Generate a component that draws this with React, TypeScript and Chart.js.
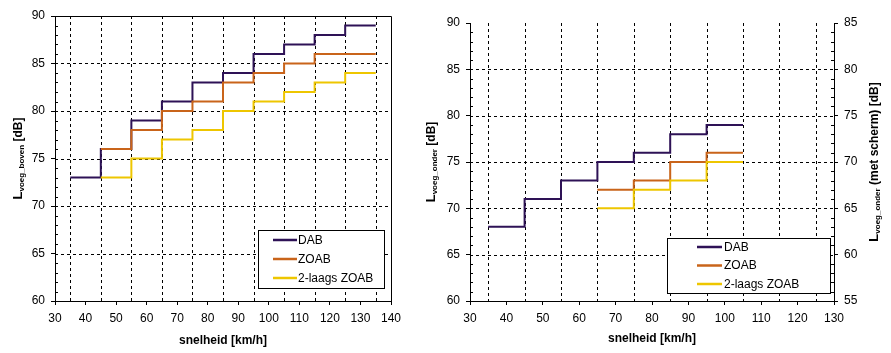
import React, { useEffect, useRef } from 'react';
import { Chart, registerables } from 'chart.js';
Chart.register(...registerables);

const FONT = "'Liberation Sans', Arial, sans-serif";
const COL_DAB = '#2E1256';
const COL_ZOAB = '#C9641A';
const COL_2ZOAB = '#EEC600';
const seriesLabels = ['DAB', 'ZOAB', '2-laags ZOAB'];

// Left chart: L_voeg_boven (step edges in km/h, value of each step; last value closes the final step)
const bovenSpeedDAB = [35, 45, 55, 65, 75, 85, 95, 105, 115, 125, 135];
const bovenDAB = [73, 76, 79, 81, 83, 84, 86, 87, 88, 89, 89];
const bovenSpeedZOAB = [45, 55, 65, 75, 85, 95, 105, 115, 125, 135];
const bovenZOAB = [76, 78, 80, 81, 83, 84, 85, 86, 86, 86];
const boven2ZOAB = [73, 75, 77, 78, 80, 81, 82, 83, 84, 84];

// Right chart: L_voeg_onder
const onderSpeedDAB = [35, 45, 55, 65, 75, 85, 95, 105];
const onderDAB = [68, 71, 73, 75, 76, 78, 79, 79];
const onderSpeedZOAB = [65, 75, 85, 95, 105];
const onderZOAB = [72, 73, 75, 76, 76];
const onder2ZOAB = [70, 72, 73, 75, 75];

// grid positions
const leftGridX = [35, 45, 55, 65, 75, 85, 95, 105, 115, 125, 135];
const rightGridX = [35, 45, 55, 65, 75, 85, 95, 105, 115, 125];
const gridY = [65, 70, 75, 80, 85];

type Part = { text: string; size: number; sub?: boolean };

function drawRich(ctx: CanvasRenderingContext2D, parts: Part[], baselineX: number, cy: number) {
  ctx.save();
  ctx.fillStyle = '#000';
  ctx.textBaseline = 'alphabetic';
  ctx.textAlign = 'left';
  let total = 0;
  const widths = parts.map((p) => {
    ctx.font = `bold ${p.size}px ${FONT}`;
    const w = ctx.measureText(p.text).width;
    total += w;
    return w;
  });
  ctx.translate(baselineX, cy);
  ctx.rotate(-Math.PI / 2);
  let x = -total / 2;
  parts.forEach((p, i) => {
    ctx.font = `bold ${p.size}px ${FONT}`;
    ctx.fillText(p.text, x, p.sub ? 2 : 0);
    x += widths[i];
  });
  ctx.restore();
}

type Cfg = {
  gridX: number[];
  frame: boolean;
  minorAxes: { id: string; side: 'left' | 'right'; min: number; max: number }[];
  legend: { rInset: number; bInset: number; w: number; h: number; l0: number; l1: number; tx: number; rows: number[] };
  titles: { parts: Part[]; x: number }[];
  xTitleY: number;
};

function makePlugin(cfg: Cfg) {
  return {
    id: 'custom',
    beforeDatasetsDraw(chart: any) {
      const { ctx, chartArea } = chart;
      const xs = chart.scales.x;
      const ys = chart.scales.y;
      ctx.save();
      ctx.strokeStyle = '#000';
      ctx.lineWidth = 1;
      ctx.setLineDash([3, 3]);
      cfg.gridX.forEach((v) => {
        const px = Math.round(xs.getPixelForValue(v)) + 0.5;
        ctx.beginPath();
        ctx.moveTo(px, chartArea.top);
        ctx.lineTo(px, chartArea.bottom);
        ctx.stroke();
      });
      gridY.forEach((v) => {
        const py = Math.round(ys.getPixelForValue(v)) + 0.5;
        ctx.beginPath();
        ctx.moveTo(chartArea.left, py);
        ctx.lineTo(chartArea.right, py);
        ctx.stroke();
      });
      ctx.setLineDash([]);
      if (cfg.frame) {
        const t = Math.round(chartArea.top) + 0.5;
        const r = Math.round(chartArea.right) + 0.5;
        ctx.beginPath();
        ctx.moveTo(chartArea.left, t);
        ctx.lineTo(r, t);
        ctx.lineTo(r, chartArea.bottom);
        ctx.stroke();
      }
      cfg.minorAxes.forEach((a) => {
        const sc = chart.scales[a.id];
        for (let v = a.min + 1; v < a.max; v++) {
          if (v % 5 === 0) continue;
          const py = Math.round(sc.getPixelForValue(v)) + 0.5;
          ctx.beginPath();
          if (a.side === 'left') {
            ctx.moveTo(chartArea.left, py);
            ctx.lineTo(chartArea.left + 3, py);
          } else {
            ctx.moveTo(chartArea.right, py);
            ctx.lineTo(chartArea.right - 3, py);
          }
          ctx.stroke();
        }
      });
      ctx.restore();
    },
    afterDatasetsDraw(chart: any) {
      const { ctx, chartArea } = chart;
      const L = cfg.legend;
      const right = Math.round(chartArea.right - L.rInset);
      const bottom = Math.round(chartArea.bottom - L.bInset);
      const left = right - L.w;
      const top = bottom - L.h;
      ctx.save();
      ctx.fillStyle = '#fff';
      ctx.fillRect(left, top, L.w, L.h);
      ctx.strokeStyle = '#000';
      ctx.lineWidth = 1;
      ctx.strokeRect(left + 0.5, top + 0.5, L.w, L.h);
      const ds = chart.data.datasets;
      ds.forEach((d: any, i: number) => {
        const y = top + L.rows[i];
        ctx.strokeStyle = d.borderColor;
        ctx.lineWidth = 2.5;
        ctx.beginPath();
        ctx.moveTo(left + L.l0, y);
        ctx.lineTo(left + L.l1, y);
        ctx.stroke();
        ctx.fillStyle = '#000';
        ctx.font = `12px ${FONT}`;
        ctx.textBaseline = 'middle';
        ctx.textAlign = 'left';
        ctx.fillText(d.label, left + L.tx, y + 0.5);
      });
      // titles
      const cy = (chartArea.top + chartArea.bottom) / 2;
      cfg.titles.forEach((t) => drawRich(ctx, t.parts, t.x, cy));
      ctx.fillStyle = '#000';
      ctx.font = `bold 12px ${FONT}`;
      ctx.textAlign = 'center';
      ctx.textBaseline = 'middle';
      ctx.fillText('snelheid [km/h]', (chartArea.left + chartArea.right) / 2, cfg.xTitleY);
      ctx.restore();
    },
  };
}

function pts(xs: number[], ys: number[]) {
  return xs.map((x, i) => ({ x, y: ys[i] }));
}

function ds(label: string, color: string, data: any[], order: number) {
  return {
    label,
    data,
    borderColor: color,
    backgroundColor: color,
    borderWidth: 2,
    pointRadius: 0,
    stepped: true,
    fill: false,
    order,
    borderCapStyle: 'butt',
  };
}

const tickFont = { family: FONT, size: 12 };

function axisCommon() {
  return {
    grid: { drawOnChartArea: false, drawTicks: true, tickLength: 4, color: '#000' },
    border: { display: true, color: '#000', width: 1 },
    title: { display: false },
  };
}

function ChartBox({ config, width, left }: { config: any; width: number; left: number }) {
  const ref = useRef<HTMLCanvasElement>(null);
  useEffect(() => {
    const c = new Chart(ref.current as HTMLCanvasElement, config);
    return () => c.destroy();
  }, []);
  return (
    <canvas
      ref={ref}
      width={width}
      height={353}
      style={{ position: 'absolute', left, top: 0, width, height: 353 }}
    />
  );
}

export default function App() {
  const leftConfig = {
    type: 'line',
    data: {
      datasets: [
        ds(seriesLabels[0], COL_DAB, pts(bovenSpeedDAB, bovenDAB), 3),
        ds(seriesLabels[1], COL_ZOAB, pts(bovenSpeedZOAB, bovenZOAB), 2),
        ds(seriesLabels[2], COL_2ZOAB, pts(bovenSpeedZOAB, boven2ZOAB), 1),
      ],
    },
    options: {
      animation: false,
      responsive: false,
      devicePixelRatio: 1,
      events: [],
      layout: { padding: { top: 16, right: 29, left: 0, bottom: 0 } },
      plugins: { legend: { display: false }, tooltip: { enabled: false } },
      scales: {
        x: {
          type: 'linear',
          min: 30,
          max: 140,
          ...axisCommon(),
          ticks: { stepSize: 10, autoSkip: false, maxRotation: 0, padding: 6, color: '#000', font: tickFont },
          afterFit: (s: any) => { s.height = 52; },
        },
        y: {
          type: 'linear',
          min: 60,
          max: 90,
          ...axisCommon(),
          ticks: { stepSize: 5, padding: 6, color: '#000', font: tickFont },
          afterFit: (s: any) => { s.width = 55; },
        },
      },
    },
    plugins: [
      makePlugin({
        gridX: leftGridX,
        frame: true,
        minorAxes: [{ id: 'y', side: 'left', min: 60, max: 90 }],
        legend: { rInset: 7, bInset: 13, w: 126, h: 58, l0: 15, l1: 39, tx: 40, rows: [10, 29, 48] },
        titles: [
          { x: 22, parts: [{ text: 'L', size: 13 }, { text: 'voeg_boven', size: 8, sub: true }, { text: ' [dB]', size: 12 }] },
        ],
        xTitleY: 341,
      }),
    ],
  };

  const rightConfig = {
    type: 'line',
    data: {
      datasets: [
        ds(seriesLabels[0], COL_DAB, pts(onderSpeedDAB, onderDAB), 3),
        ds(seriesLabels[1], COL_ZOAB, pts(onderSpeedZOAB, onderZOAB), 2),
        ds(seriesLabels[2], COL_2ZOAB, pts(onderSpeedZOAB, onder2ZOAB), 1),
      ],
    },
    options: {
      animation: false,
      responsive: false,
      devicePixelRatio: 1,
      events: [],
      layout: { padding: { top: 23, right: 0, left: 0, bottom: 0 } },
      plugins: { legend: { display: false }, tooltip: { enabled: false } },
      scales: {
        x: {
          type: 'linear',
          min: 30,
          max: 130,
          ...axisCommon(),
          ticks: { stepSize: 10, autoSkip: false, maxRotation: 0, padding: 6, color: '#000', font: tickFont },
          afterFit: (s: any) => { s.height = 52; },
        },
        y: {
          type: 'linear',
          position: 'left',
          min: 60,
          max: 90,
          ...axisCommon(),
          ticks: { stepSize: 5, padding: 6, color: '#000', font: tickFont },
          afterFit: (s: any) => { s.width = 50; },
        },
        y2: {
          type: 'linear',
          position: 'right',
          min: 55,
          max: 85,
          ...axisCommon(),
          ticks: { stepSize: 5, padding: 6, color: '#000', font: tickFont },
          afterFit: (s: any) => { s.width = 57; },
        },
      },
    },
    plugins: [
      makePlugin({
        gridX: rightGridX,
        frame: false,
        minorAxes: [
          { id: 'y', side: 'left', min: 60, max: 90 },
          { id: 'y2', side: 'right', min: 55, max: 85 },
        ],
        legend: { rInset: 4, bInset: 8, w: 163, h: 55, l0: 30, l1: 55, tx: 57, rows: [9, 27.5, 46] },
        titles: [
          { x: 15, parts: [{ text: 'L', size: 13 }, { text: 'voeg_onder', size: 8, sub: true }, { text: ' [dB]', size: 12 }] },
          { x: 458, parts: [{ text: 'L', size: 13 }, { text: 'voeg_onder', size: 8, sub: true }, { text: ' (met scherm) [dB]', size: 12 }] },
        ],
        xTitleY: 339,
      }),
    ],
  };

  return (
    <div style={{ position: 'absolute', left: 0, top: 0, width: 891, height: 353, background: '#fff', overflow: 'hidden' }}>
      <ChartBox config={leftConfig} width={420} left={0} />
      <ChartBox config={rightConfig} width={471} left={420} />
    </div>
  );
}
